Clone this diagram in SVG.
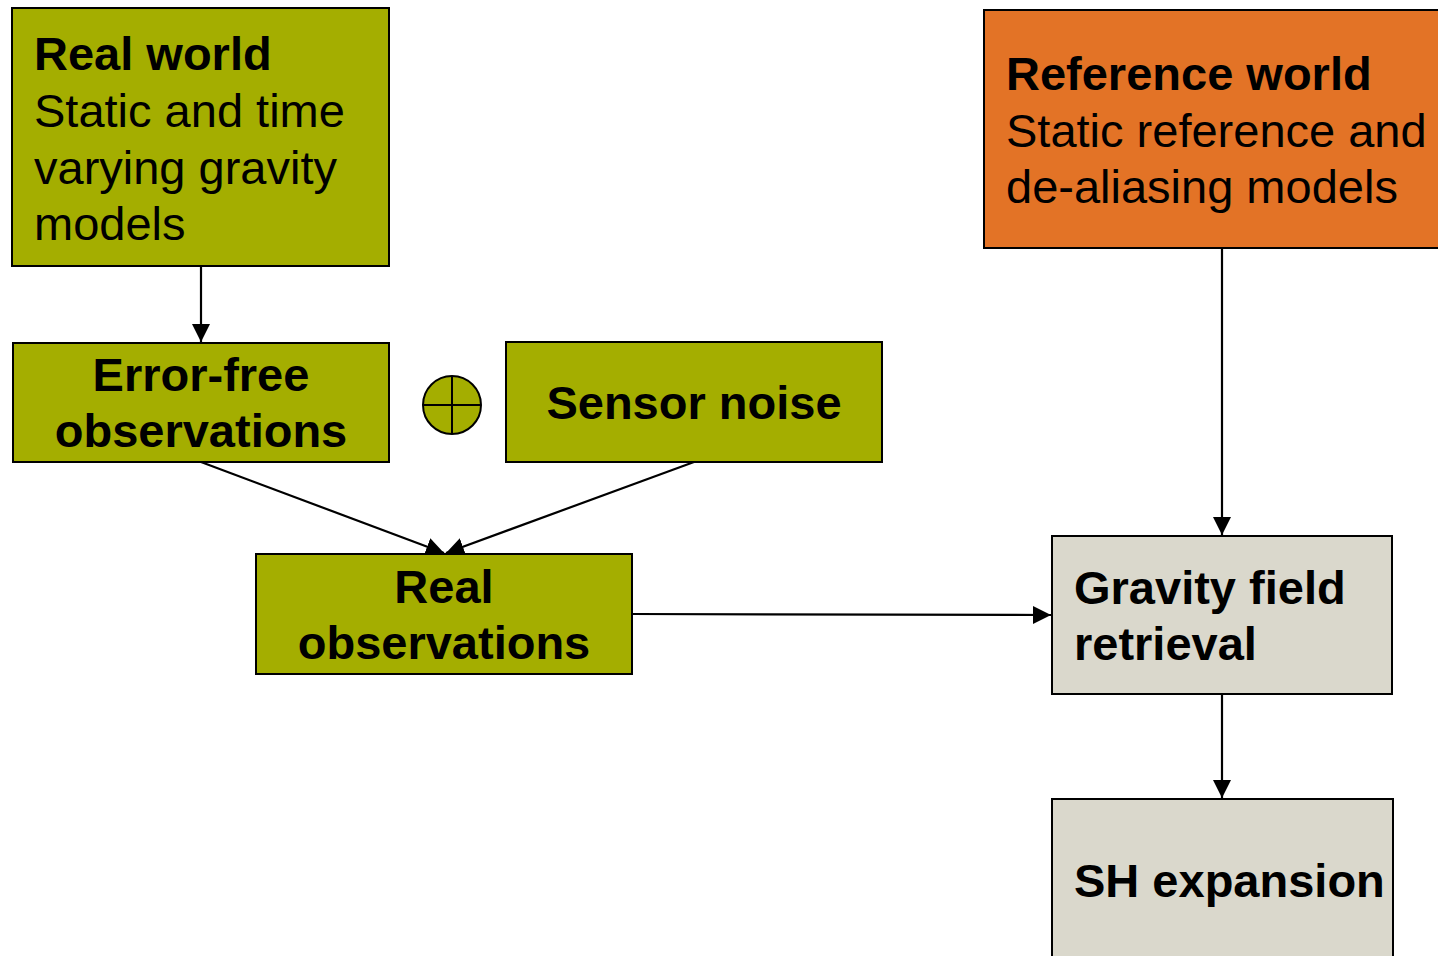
<svg xmlns="http://www.w3.org/2000/svg" width="1438" height="956" viewBox="0 0 1438 956">
<style>
.b{stroke:#000;stroke-width:2}
.g{fill:#A4AE00}
.o{fill:#E37326}
.s{fill:#DAD8CC}
text{font-family:"Liberation Sans",Arial,sans-serif;font-size:47px;fill:#000}
.bd{font-weight:bold}
.c{text-anchor:middle}
.e{stroke:#000;stroke-width:2.2;fill:none;marker-end:url(#ah)}
</style>
<defs>
<marker id="ah" markerUnits="userSpaceOnUse" markerWidth="20" markerHeight="20" viewBox="0 0 20 20" refX="18" refY="10" orient="auto">
<path d="M0,1 L18,10 L0,19 Z" fill="#000"/>
</marker>
</defs>
<rect width="1438" height="956" fill="#fff"/>
<g id="connectors">
<line class="e" x1="201" y1="266" x2="201" y2="342"/>
<line class="e" x1="201" y1="462" x2="444" y2="553"/>
<line class="e" x1="694" y1="462" x2="446" y2="553"/>
<line class="e" x1="632" y1="614" x2="1051" y2="615"/>
<line class="e" x1="1222" y1="248" x2="1222" y2="535"/>
<line class="e" x1="1222" y1="694" x2="1222" y2="798"/>
</g>
<g id="real-world">
<rect class="b g" x="12" y="8" width="377" height="258"/>
<text x="34" y="70" class="bd">Real world</text>
<text x="34" y="127">Static and time</text>
<text x="34" y="184">varying gravity</text>
<text x="34" y="240">models</text>
</g>
<g id="reference-world">
<rect class="b o" x="984" y="10" width="460" height="238"/>
<text x="1006" y="90" class="bd">Reference world</text>
<text x="1006" y="147">Static reference and</text>
<text x="1006" y="203">de-aliasing models</text>
</g>
<g id="error-free">
<rect class="b g" x="13" y="343" width="376" height="119"/>
<text x="201" y="391" class="bd c">Error-free</text>
<text x="201" y="447" class="bd c">observations</text>
</g>
<g id="plus">
<circle class="b g" cx="452" cy="405" r="29"/>
<line class="b" x1="423" y1="405" x2="481" y2="405"/>
<line class="b" x1="452" y1="376" x2="452" y2="434"/>
</g>
<g id="sensor-noise">
<rect class="b g" x="506" y="342" width="376" height="120"/>
<text x="694" y="419" class="bd c">Sensor noise</text>
</g>
<g id="real-observations">
<rect class="b g" x="256" y="554" width="376" height="120"/>
<text x="444" y="603" class="bd c">Real</text>
<text x="444" y="659" class="bd c">observations</text>
</g>
<g id="gravity-field-retrieval">
<rect class="b s" x="1052" y="536" width="340" height="158"/>
<text x="1074" y="604" class="bd">Gravity field</text>
<text x="1074" y="660" class="bd">retrieval</text>
</g>
<g id="sh-expansion">
<rect class="b s" x="1052" y="799" width="341" height="170"/>
<text x="1074" y="897" class="bd">SH expansion</text>
</g>
</svg>
